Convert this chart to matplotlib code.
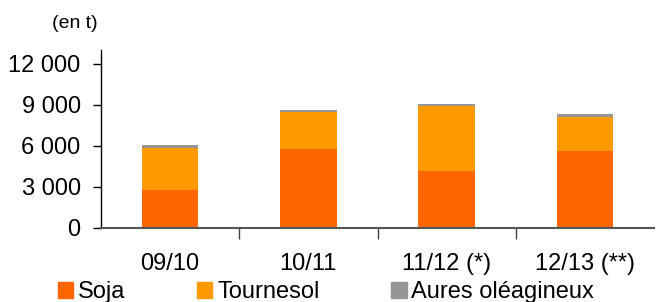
import matplotlib
matplotlib.use("Agg")
import matplotlib.pyplot as plt
from matplotlib.patches import Patch
import numpy as np

plt.rcParams['font.family'] = ['Liberation Sans', 'DejaVu Sans']

categories = ["09/10", "10/11", "11/12 (*)", "12/13 (**)"]
soja = [2770, 5770, 4180, 5620]
tournesol = [3090, 2670, 4720, 2500]
autres = [200, 170, 150, 200]
series_names = ["Soja", "Tournesol", "Aures oléagineux"]
colors = ["#FF6600", "#FF9900", "#969696"]
yticks = [0, 3000, 6000, 9000, 12000]
ytick_labels = ["0", "3 000", "6 000", "9 000", "12 000"]

FS = 17

fig = plt.figure(figsize=(6.58, 3.02), dpi=100)
ax = fig.add_axes([101/658, 1-228/302, 553/658, 178/302])

x = np.arange(len(categories))
w = 0.41
ax.bar(x, soja, w, color=colors[0], zorder=2)
ax.bar(x, tournesol, w, bottom=soja, color=colors[1], zorder=2)
bot2 = np.array(soja) + np.array(tournesol)
ax.bar(x, autres, w, bottom=bot2, color=colors[2], zorder=2)

ax.set_xlim(-0.5, len(categories) - 0.5)
ax.set_ylim(0, 13000)
ax.set_yticks(yticks)
ax.set_yticklabels(ytick_labels, fontsize=FS)
ax.set_xticks(x)
ax.set_xticklabels(categories, fontsize=FS)
ax.tick_params(axis='x', length=0, pad=18)
ax.set_xticks(np.arange(0.5, len(categories) - 0.5), minor=True)
ax.tick_params(axis='x', which='minor', length=8, width=1, color='#404040', direction='out')
ax.tick_params(axis='y', length=6, width=1, direction='out', pad=8.6)

for s in ['top', 'right']:
    ax.spines[s].set_visible(False)
ax.spines['left'].set_color('black')
ax.spines['left'].set_linewidth(1)
ax.spines['bottom'].set_color('#555555')
ax.spines['bottom'].set_linewidth(1.5)

fig.text(52/658, 1-23/302, "(en t)", fontsize=14, ha='left', va='center')

handles = [Patch(color=c) for c in colors]
fig.legend(handles, series_names, loc='center left', bbox_to_anchor=(58/658, 10/302),
           ncol=3, frameon=False, fontsize=FS, handlelength=0.64, handleheight=0.64,
           handletextpad=0.2, columnspacing=3.05, borderpad=0, borderaxespad=0)

fig.savefig("out.png", dpi=100)
